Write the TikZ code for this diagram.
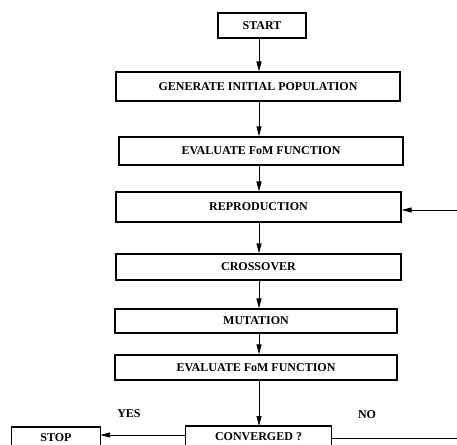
\documentclass[tikz,border=0pt]{standalone}
\usepackage{fontspec}
\setmainfont{Liberation Serif}
\usetikzlibrary{arrows.meta}
\begin{document}
\begin{tikzpicture}[x=1pt,y=-1pt,
  box/.style={draw,line width=1.1pt,inner sep=0pt,font=\fontsize{12}{14}\selectfont\bfseries},
  openbox/.style={inner sep=0pt,font=\fontsize{12}{14}\selectfont\bfseries},
  side/.style={line width=1.1pt},
  arr/.style={line width=1pt,-{Triangle[length=10pt,width=5pt]}},
  lbl/.style={font=\fontsize{12}{14}\selectfont\bfseries,inner sep=0pt}]
\useasboundingbox (0,0) rectangle (457,444);
\clip (0,0) rectangle (457,444);
\fill[white] (0,0) rectangle (457,444);
\coordinate (axis) at (259,0);
\node[box,minimum width=88pt,minimum height=25pt] (start) at (262,25.5) {START};
\node[box,minimum width=284pt,minimum height=29pt] (gen) at (258,86.5) {GENERATE INITIAL POPULATION};
\node[box,minimum width=284pt,minimum height=28pt] (eval1) at (261,151) {EVALUATE FoM FUNCTION};
\node[box,minimum width=285pt,minimum height=30pt] (repr) at (258.5,207) {REPRODUCTION};
\node[box,minimum width=285pt,minimum height=26pt] (cross) at (258.5,267) {CROSSOVER};
\node[box,minimum width=282pt,minimum height=24pt] (mut) at (256,321) {MUTATION};
\node[box,minimum width=282pt,minimum height=25pt] (eval2) at (256,367.5) {EVALUATE FoM FUNCTION};
\node[openbox,minimum width=146pt,minimum height=21pt,anchor=north] (conv) at (258.5,426) {CONVERGED ?};
\node[openbox,minimum width=88pt,minimum height=20pt,anchor=north] (stop) at (56,427) {STOP};
\draw[side] ([yshift=-4pt]conv.south west) -- (conv.north west) -- (conv.north east) -- ([yshift=-4pt]conv.south east);
\draw[side] ([yshift=-4pt]stop.south west) -- (stop.north west) -- (stop.north east) -- ([yshift=-4pt]stop.south east);
\coordinate (fbin) at (457,210);
\coordinate (noout) at (457,438);
\draw[arr] (start.south -| axis) -- (gen.north -| axis);
\draw[arr] (gen.south -| axis) -- (eval1.north -| axis);
\draw[arr] (eval1.south -| axis) -- (repr.north -| axis);
\draw[arr] (repr.south -| axis) -- (cross.north -| axis);
\draw[arr] (cross.south -| axis) -- (mut.north -| axis);
\draw[arr] (mut.south -| axis) -- (eval2.north -| axis);
\draw[arr] (eval2.south -| axis) -- (conv.north -| axis);
\draw[arr] (fbin) -- (fbin -| repr.east);
\draw[arr] (conv.west |- 0,435) -- (stop.east |- 0,435);
\draw[line width=1pt] (conv.east |- noout) -- (noout);
\node[lbl] (yes) at (129,414) {YES};
\node[lbl] (no) at (367,415) {NO};
\end{tikzpicture}
\end{document}
